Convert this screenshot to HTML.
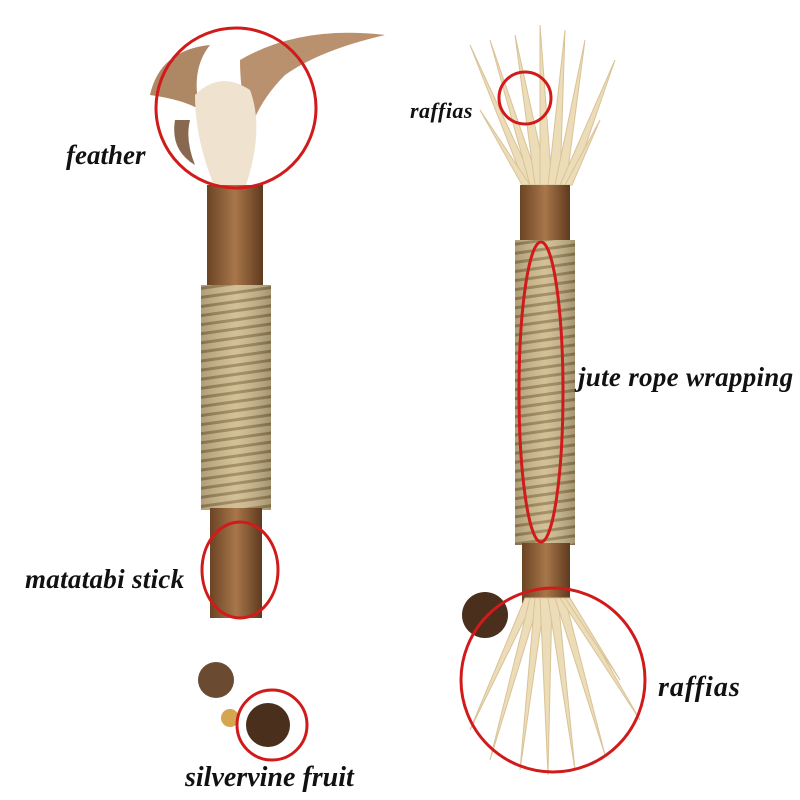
<!DOCTYPE html>
<html><head><meta charset="utf-8"><style>
html,body{margin:0;padding:0;background:#fff;}
.w{position:relative;width:800px;height:800px;overflow:hidden;background:#fff;}
.t{position:absolute;font-family:"Liberation Serif",serif;font-weight:bold;font-style:italic;color:#111;white-space:nowrap;line-height:1;}
</style></head><body><div class="w">
<svg width="800" height="800" viewBox="0 0 800 800" style="position:absolute;left:0;top:0">
<defs>
<pattern id="rope" width="12" height="9" patternUnits="userSpaceOnUse" patternTransform="rotate(-8)">
<rect width="12" height="9" fill="#cdb98c"/><rect y="6" width="12" height="3" fill="#9c8458"/>
</pattern>
<linearGradient id="wood" x1="0" x2="1"><stop offset="0" stop-color="#6b4424"/><stop offset="0.5" stop-color="#a8764a"/><stop offset="1" stop-color="#5e3a1e"/></linearGradient>
<linearGradient id="ropesh" x1="0" x2="1"><stop offset="0" stop-color="#000" stop-opacity="0.15"/><stop offset="0.5" stop-color="#fff" stop-opacity="0.1"/><stop offset="1" stop-color="#000" stop-opacity="0.2"/></linearGradient>
</defs>
<g opacity="0.8">
<path d="M150 95 Q160 50 210 45 Q190 70 200 110 Q185 100 150 95Z" fill="#9a6a3e"/>
<path d="M240 60 Q300 25 385 35 Q320 50 285 75 Q260 100 250 130 Q240 95 240 60Z" fill="#a8764a"/>
<path d="M175 120 Q170 150 195 165 Q185 140 190 120Z" fill="#6b4424"/>
</g>
<path d="M195 95 Q220 70 250 90 Q265 130 245 188 L215 188 Q195 140 195 95Z" fill="#efe3cf"/>
<rect x="207" y="185" width="56" height="105" fill="url(#wood)"/>
<rect x="201" y="285" width="70" height="225" fill="url(#rope)"/>
<rect x="201" y="285" width="70" height="225" fill="url(#ropesh)"/>
<rect x="210" y="508" width="52" height="110" fill="url(#wood)"/>
<circle cx="216" cy="680" r="18" fill="#6a4a30"/>
<circle cx="230" cy="718" r="9" fill="#d4a650"/>
<circle cx="268" cy="725" r="22" fill="#4a2f1c"/>
<g fill="#ecdcb8" stroke="#d9c397" stroke-width="1">
<path d="M470 45 L525 185 L535 185 Z"/>
<path d="M490 40 L530 185 L540 185 Z"/>
<path d="M515 35 L535 185 L548 185 Z"/>
<path d="M540 25 L540 185 L552 185 Z"/>
<path d="M565 30 L548 185 L560 185 Z"/>
<path d="M585 40 L555 185 L566 185 Z"/>
<path d="M615 60 L560 185 L572 185 Z"/>
<path d="M600 120 L565 185 L572 185 Z"/>
<path d="M480 110 L522 185 L530 185 Z"/>
</g>
<rect x="520" y="185" width="50" height="60" fill="url(#wood)"/>
<rect x="515" y="240" width="60" height="305" fill="url(#rope)"/>
<rect x="515" y="240" width="60" height="305" fill="url(#ropesh)"/>
<rect x="522" y="543" width="48" height="60" fill="url(#wood)"/>
<circle cx="485" cy="615" r="23" fill="#4a2f1c"/>
<g fill="#ecdcb8" stroke="#d9c397" stroke-width="1">
<path d="M525 598 L535 598 L470 730 Z"/>
<path d="M530 598 L540 598 L490 760 Z"/>
<path d="M535 598 L545 598 L520 770 Z"/>
<path d="M540 598 L552 598 L548 775 Z"/>
<path d="M548 598 L558 598 L575 770 Z"/>
<path d="M555 598 L565 598 L605 755 Z"/>
<path d="M560 598 L570 598 L640 720 Z"/>
<path d="M565 598 L570 598 L620 680 Z"/>
</g>
<g fill="none" stroke="#d11a1a" stroke-width="3">
<circle cx="236" cy="108" r="80"/>
<ellipse cx="240" cy="570" rx="38" ry="48"/>
<circle cx="272" cy="725" r="35"/>
<circle cx="525" cy="98" r="26"/>
<ellipse cx="541" cy="392" rx="22" ry="150"/>
<circle cx="553" cy="680" r="92"/>
</g>
</svg>
<div class="t" style="left:66px;top:142px;font-size:27px">feather</div>
<div class="t" style="left:25px;top:566px;font-size:27px;letter-spacing:0.3px">matatabi stick</div>
<div class="t" style="left:185px;top:764px;font-size:28px">silvervine fruit</div>
<div class="t" style="left:410px;top:100px;font-size:22px;letter-spacing:0.5px">raffias</div>
<div class="t" style="left:578px;top:364px;font-size:27px;letter-spacing:0.3px">jute rope wrapping</div>
<div class="t" style="left:658px;top:674px;font-size:28px;letter-spacing:1px">raffias</div>
</div></body></html>
